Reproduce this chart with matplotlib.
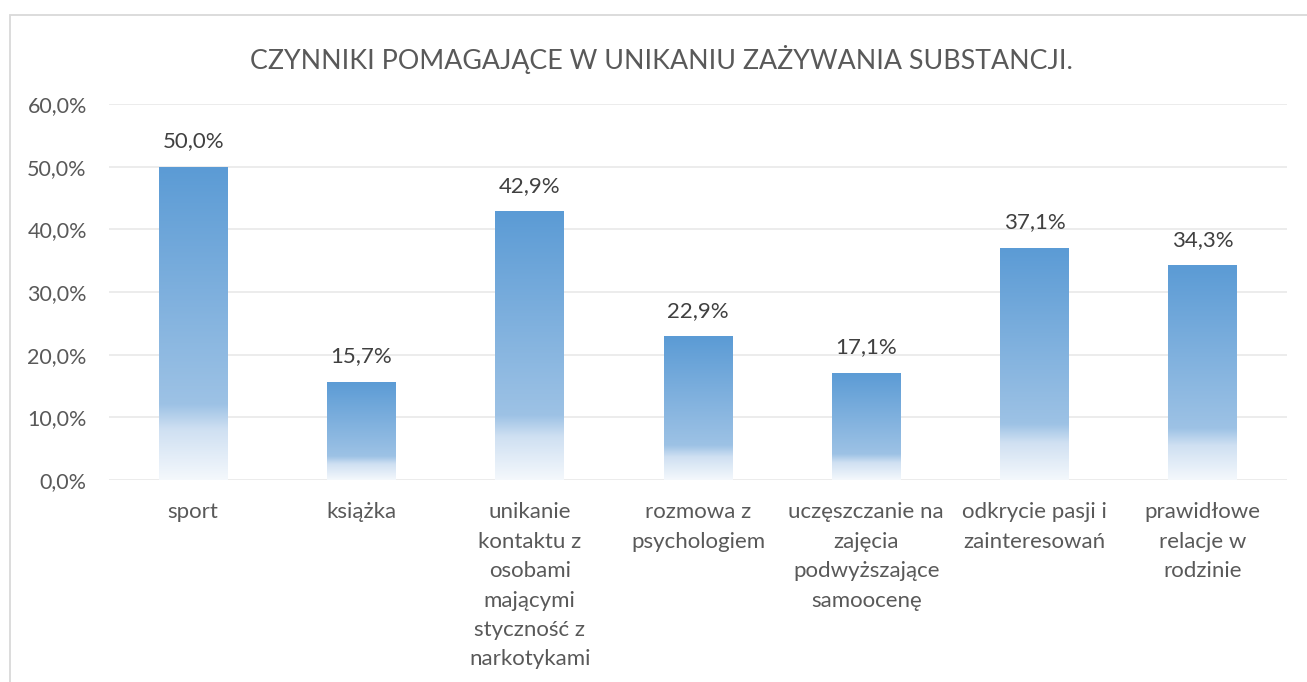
import numpy as np
import matplotlib
matplotlib.use("Agg")
import matplotlib.pyplot as plt
from matplotlib.colors import LinearSegmentedColormap
from matplotlib.patches import Rectangle

plt.rcParams['font.family'] = ['Lato', 'DejaVu Sans']

title = "CZYNNIKI POMAGAJĄCE W UNIKANIU ZAŻYWANIA SUBSTANCJI."
categories = [
    "sport",
    "książka",
    "unikanie\nkontaktu z\nosobami\nmającymi\nstyczność z\nnarkotykami",
    "rozmowa z\npsychologiem",
    "uczęszczanie na\nzajęcia\npodwyższające\nsamoocenę",
    "odkrycie pasji i\nzainteresowań",
    "prawidłowe\nrelacje w\nrodzinie",
]
values = [50.0, 15.7, 42.9, 22.9, 17.1, 37.1, 34.3]
yticks = [0, 10, 20, 30, 40, 50, 60]

W, H = 1307, 682
fig = plt.figure(figsize=(W / 100, H / 100), dpi=100)
fig.patch.set_facecolor('white')

# chart border
fig.patches.append(Rectangle((10 / W, -0.05), 1.2, (H - 15) / H + 0.05,
                             transform=fig.transFigure, fill=False,
                             edgecolor='#d9d9d9', linewidth=1.3))

ax = fig.add_axes([109 / W, (H - 480) / H, (1287 - 109) / W, (480 - 104) / H])
ax.set_facecolor('none')
x = np.arange(len(categories))
bars = ax.bar(x, values, width=0.41, color='none', edgecolor='none', zorder=3)

cmap = LinearSegmentedColormap.from_list('grad', [
    (0.0, '#f4f8fc'),
    (0.16, '#cfe0f2'),
    (0.24, '#9dc2e5'),
    (1.0, '#5b9bd5'),
])
grad = np.linspace(0, 1, 256).reshape(-1, 1)
for b in bars:
    x0, w, h = b.get_x(), b.get_width(), b.get_height()
    im = ax.imshow(grad, cmap=cmap, origin='lower', aspect='auto',
                   extent=(x0, x0 + w, 0, h), zorder=3, interpolation='bilinear')
    im.set_clip_path(b)

for xi, v in zip(x, values):
    ax.annotate(f"{v:.1f}%".replace('.', ','), (xi, v), xytext=(0, 11),
                textcoords='offset points', ha='center', va='bottom',
                fontsize=16, color='#404040', zorder=4)

ax.set_xlim(-0.5, len(categories) - 0.5)
ax.set_ylim(0, 60)
ax.set_yticks(yticks)
ax.set_yticklabels([f"{t:.1f}%".replace('.', ',') for t in yticks])
ax.set_xticks(x)
ax.set_xticklabels(categories, linespacing=1.59)
ax.tick_params(axis='both', length=0, labelcolor='#595959')
ax.tick_params(axis='y', pad=16, labelsize=15.5)
ax.tick_params(axis='x', pad=16, labelsize=16)
ax.grid(axis='y', color='#ebebeb', linewidth=1.3, zorder=0)
ax.set_axisbelow(True)
for s in ax.spines.values():
    s.set_visible(False)

fig.text(661 / W, (H - 59) / H, title, ha='center', va='center',
         fontsize=19.3, color='#595959')

fig.savefig('out.png', dpi=100, facecolor='white')
